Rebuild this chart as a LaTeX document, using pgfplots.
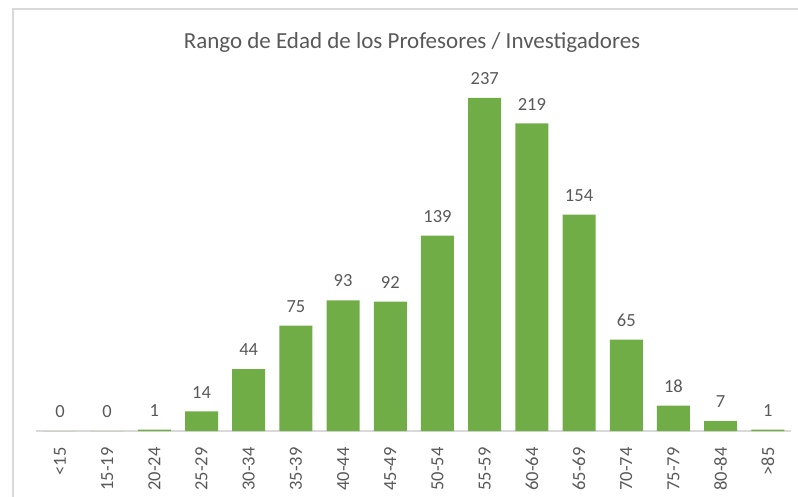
\documentclass[border=0pt]{standalone}
\usepackage{pgfplots}
\pgfplotsset{compat=1.18}
\usepackage{fontspec}
\setmainfont{Carlito}
\definecolor{bargreen}{HTML}{70AD47}
\definecolor{txtgray}{HTML}{595959}
\definecolor{linegray}{HTML}{D9D9D9}
\begin{document}
\begin{tikzpicture}[x=1pt,y=1pt]
\path[use as bounding box] (0,0) rectangle (798,496);
\draw[linegray, line width=1.5pt] (13,-5) -- (13,487) -- (805,487);
\node[font=\fontsize{23}{27}\selectfont, text=txtgray] at (412,454) {Rango de Edad de los Profesores / Investigadores};
\begin{axis}[
  at={(36.4pt,65pt)}, anchor=south west,
  scale only axis, width=755pt, height=351.3pt,
  xmin=-0.5, xmax=15.5, ymin=0, ymax=250,
  ybar, bar width=33pt,
  axis y line=none, axis x line*=bottom,
  x axis line style={draw=linegray, line width=1.5pt},
  ytick=\empty,
  xtick=data,
  xticklabels={<15,15-19,20-24,25-29,30-34,35-39,40-44,45-49,50-54,55-59,60-64,65-69,70-74,75-79,80-84,>85},
  xtick style={draw=none},
  xticklabel style={rotate=90, anchor=east, font=\fontsize{18.5}{21}\selectfont, text=txtgray, inner sep=0pt, xshift=-12pt},
  /pgf/number format/assume math mode=true,
  nodes near coords,
  every node near coord/.append style={font=\fontsize{18.5}{21}\selectfont, text=txtgray, anchor=south, inner sep=0pt, yshift=13pt},
  clip=false,
]
\addplot[fill=bargreen, draw=none] coordinates {
(0,0) (1,0) (2,1) (3,14) (4,44) (5,75) (6,93) (7,92) (8,139) (9,237) (10,219) (11,154) (12,65) (13,18) (14,7) (15,1)
};
\end{axis}
\end{tikzpicture}
\end{document}
